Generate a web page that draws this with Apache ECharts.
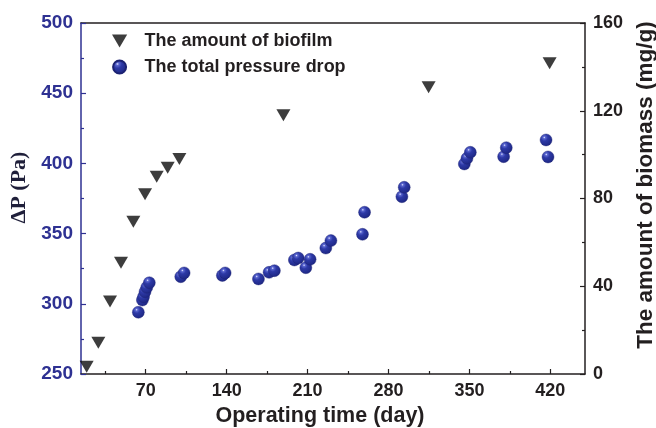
<!DOCTYPE html>
<html><head><meta charset="utf-8">
<script src="https://cdn.jsdelivr.net/npm/echarts@6/dist/echarts.min.js"></script>
<style>html,body{margin:0;padding:0;background:#fff}#c{width:656px;height:428px}</style>
</head><body><div id="c"></div>
<script>
const pressureDays = [63.6, 67.1, 68.1, 69.4, 70.9, 73.1, 100.3, 103.2, 136.3, 138.7, 167.5, 176.7, 181.3, 198.6, 201.9, 208.5, 212.2, 225.8, 230.2, 257.5, 259.3, 291.6, 293.6, 345.6, 347.9, 350.8, 379.6, 381.9, 416.3, 418.0];
const pressureValues = [294.0, 302.7, 305.0, 308.6, 311.7, 315.0, 319.3, 322.0, 320.2, 322.0, 317.7, 322.4, 323.6, 331.2, 332.6, 325.7, 331.7, 339.7, 345.0, 349.5, 365.2, 376.3, 383.0, 399.6, 403.6, 407.9, 404.8, 411.2, 416.7, 404.6];
const biofilmDays = [18.9, 29.0, 39.1, 48.6, 59.3, 69.4, 79.5, 89.0, 99.1, 189.1, 314.7, 419.4];
const biofilmValues = [3.3, 14.3, 33.0, 50.7, 69.4, 81.9, 89.9, 94.0, 98.0, 118.0, 130.7, 141.6];
const xMajorTicks = [70, 140, 210, 280, 350, 420];
const xMinorTicks = [35, 105, 175, 245, 315, 385];
const seriesNames = ['The amount of biofilm', 'The total pressure drop'];
const axisTitles = { x: 'Operating time (day)', yLeft: 'ΔP (Pa)', yRight: 'The amount of biomass (mg/g)' };

const FONT = "'Liberation Sans', Arial, sans-serif";
const BLUE = '#2e3192';
const INK = '#231f20';

const chart = echarts.init(document.getElementById('c'), null, { renderer: 'canvas' });
const xMin = 14, xMax = 450;

const sphere = new echarts.graphic.RadialGradient(0.36, 0.3, 0.75, [
  { offset: 0, color: '#e4e7ff' },
  { offset: 0.13, color: '#5a66cf' },
  { offset: 0.38, color: '#2d39a6' },
  { offset: 1, color: '#1c2580' }
]);

chart.setOption({
  animation: false,
  backgroundColor: '#fff',
  grid: { left: 81, right: 71, top: 23, bottom: 54, containLabel: false, outerBoundsMode: 'none' },
  legend: {
    orient: 'vertical', left: 107, top: 27, itemGap: 8,
    itemWidth: 40, itemHeight: 13,
    textStyle: { fontSize: 18, fontWeight: 'bold', color: INK, fontFamily: FONT },
    data: [
      { name: seriesNames[0], icon: 'path://M0,0L14,0L7,12Z' },
      { name: seriesNames[1], icon: 'circle' }
    ]
  },
  xAxis: [
    {
      type: 'value', position: 'bottom', min: xMin, max: xMax,
      name: axisTitles.x, nameLocation: 'middle', nameGap: 31,
      nameTextStyle: { fontSize: 21.5, fontWeight: 'bold', color: INK, fontFamily: FONT, padding: [0, 26, 0, 0] },
      axisLine: { show: true, onZero: false, lineStyle: { color: INK, width: 1.5 } },
      axisTick: { show: true, inside: true, length: 5, customValues: xMajorTicks, lineStyle: { color: INK, width: 1.2 } },
      axisLabel: { show: true, customValues: xMajorTicks, margin: 8, fontSize: 18, fontWeight: 'bold', color: INK, fontFamily: FONT },
      splitLine: { show: false }
    },
    {
      type: 'value', position: 'bottom', min: xMin, max: xMax,
      axisLine: { show: false },
      axisTick: { show: true, inside: true, length: 3, customValues: xMinorTicks, lineStyle: { color: INK, width: 1.2 } },
      axisLabel: { show: false },
      splitLine: { show: false }
    },
    {
      type: 'value', position: 'top', min: xMin, max: xMax,
      axisLine: { show: true, onZero: false, lineStyle: { color: INK, width: 1.5 } },
      axisTick: { show: false }, axisLabel: { show: false }, splitLine: { show: false }
    }
  ],
  yAxis: [
    {
      type: 'value', position: 'left', min: 250, max: 500, interval: 50,
      name: axisTitles.yLeft, nameLocation: 'middle', nameGap: 48, nameRotate: 90,
      nameTextStyle: { fontSize: 22, fontWeight: 'bold', color: '#1f1f3a', fontFamily: "'Liberation Serif', 'Times New Roman', serif", padding: [0, 0, 0, 22] },
      axisLine: { show: true, onZero: false, lineStyle: { color: BLUE, width: 1.5 } },
      axisTick: { show: true, inside: true, length: 5, lineStyle: { color: BLUE, width: 1.2 } },
      minorTick: { show: true, splitNumber: 2, length: 3, lineStyle: { color: BLUE, width: 1.2 } },
      axisLabel: { margin: 8, fontSize: 19, fontWeight: 'bold', color: BLUE, fontFamily: FONT },
      splitLine: { show: false }, minorSplitLine: { show: false }
    },
    {
      type: 'value', position: 'right', min: 0, max: 160, interval: 40,
      name: axisTitles.yRight, nameLocation: 'middle', nameGap: 48, nameRotate: 90,
      nameTextStyle: { fontSize: 22.5, fontWeight: 'bold', color: INK, fontFamily: FONT, padding: [0, 0, 0, 27] },
      axisLine: { show: true, onZero: false, lineStyle: { color: INK, width: 1.5 } },
      axisTick: { show: true, inside: true, length: 5, lineStyle: { color: INK, width: 1.2 } },
      minorTick: { show: true, splitNumber: 2, length: 3, lineStyle: { color: INK, width: 1.2 } },
      axisLabel: { margin: 8, fontSize: 18, fontWeight: 'bold', color: INK, fontFamily: FONT },
      splitLine: { show: false }, minorSplitLine: { show: false }
    }
  ],
  series: [
    {
      name: seriesNames[0], type: 'scatter', xAxisIndex: 0, yAxisIndex: 1,
      symbol: 'triangle', symbolRotate: 180, symbolSize: [14, 12],
      itemStyle: { color: '#0d0d0d' },
      data: biofilmDays.map((d, i) => [d, biofilmValues[i]]),
      z: 3
    },
    {
      name: seriesNames[1], type: 'scatter', xAxisIndex: 0, yAxisIndex: 0,
      symbol: 'circle', symbolSize: 12,
      itemStyle: { color: sphere, borderColor: '#1c2272', borderWidth: 0.4, opacity: 1 },
      data: pressureDays.map((d, i) => [d, pressureValues[i]]),
      z: 4
    }
  ]
});
</script>
</body></html>
